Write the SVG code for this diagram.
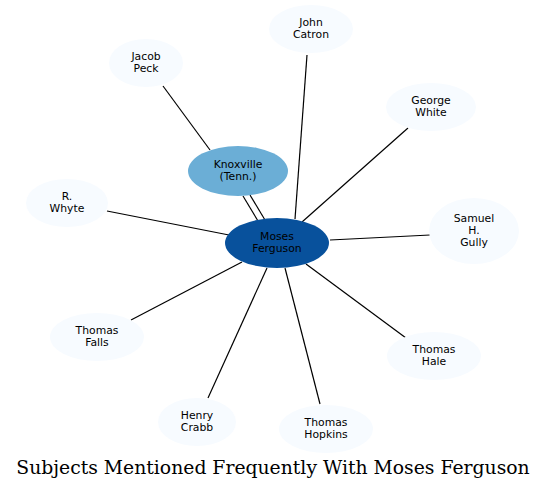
<svg xmlns="http://www.w3.org/2000/svg" width="547" height="490" viewBox="0 0 547 490">
<style>
.n{fill:#f7fbff}
.t{font-family:"DejaVu Sans",sans-serif;font-size:10.8px;fill:#000;text-anchor:middle}
.e line{stroke:#000;stroke-width:1.2}
</style>
<rect width="547" height="490" fill="#fff"/>
<g class="e" id="edges">
<line x1="163" y1="86" x2="210" y2="150"/>
<line x1="307" y1="55" x2="295" y2="219"/>
<line x1="408" y1="128" x2="302" y2="222"/>
<line x1="107" y1="211" x2="229" y2="235"/>
<line x1="430" y1="235" x2="330" y2="240"/>
<line x1="131" y1="320" x2="242" y2="262"/>
<line x1="406" y1="338" x2="306" y2="264"/>
<line x1="208" y1="398" x2="267" y2="268"/>
<line x1="320" y1="404" x2="285" y2="268"/>
<line x1="243" y1="196" x2="258" y2="221"/>
<line x1="250" y1="195" x2="265" y2="220"/>
</g>
<g id="knoxville"><ellipse cx="238" cy="171" rx="50" ry="25" fill="#6baed6"/><text class="t" x="238" y="168">Knoxville</text><text class="t" x="238" y="180">(Tenn.)</text></g>
<g id="moses"><ellipse cx="277" cy="243" rx="52" ry="25" fill="#08519c"/><text class="t" x="277" y="240">Moses</text><text class="t" x="277" y="252">Ferguson</text></g>
<g id="catron"><ellipse class="n" cx="311" cy="29" rx="42" ry="24"/><text class="t" x="311" y="26">John</text><text class="t" x="311" y="38">Catron</text></g>
<g id="peck"><ellipse class="n" cx="146" cy="63" rx="37" ry="24"/><text class="t" x="146" y="60">Jacob</text><text class="t" x="146" y="72">Peck</text></g>
<g id="white"><ellipse class="n" cx="431" cy="107" rx="45" ry="24"/><text class="t" x="431" y="104">George</text><text class="t" x="431" y="116">White</text></g>
<g id="whyte"><ellipse class="n" cx="67" cy="203" rx="41" ry="24"/><text class="t" x="67" y="200">R.</text><text class="t" x="67" y="212">Whyte</text></g>
<g id="gully"><ellipse class="n" cx="474" cy="231" rx="45" ry="33"/><text class="t" x="474" y="222">Samuel</text><text class="t" x="474" y="234">H.</text><text class="t" x="474" y="246">Gully</text></g>
<g id="falls"><ellipse class="n" cx="97" cy="337" rx="47" ry="24"/><text class="t" x="97" y="334">Thomas</text><text class="t" x="97" y="346">Falls</text></g>
<g id="hale"><ellipse class="n" cx="434" cy="356" rx="47" ry="24"/><text class="t" x="434" y="353">Thomas</text><text class="t" x="434" y="365">Hale</text></g>
<g id="crabb"><ellipse class="n" cx="197" cy="422" rx="39" ry="24"/><text class="t" x="197" y="419">Henry</text><text class="t" x="197" y="431">Crabb</text></g>
<g id="hopkins"><ellipse class="n" cx="326" cy="429" rx="47" ry="24"/><text class="t" x="326" y="426">Thomas</text><text class="t" x="326" y="438">Hopkins</text></g>
<text x="273" y="474" font-family="'DejaVu Serif',serif" font-size="18.8" text-anchor="middle" fill="#000">Subjects Mentioned Frequently With Moses Ferguson</text>
</svg>
